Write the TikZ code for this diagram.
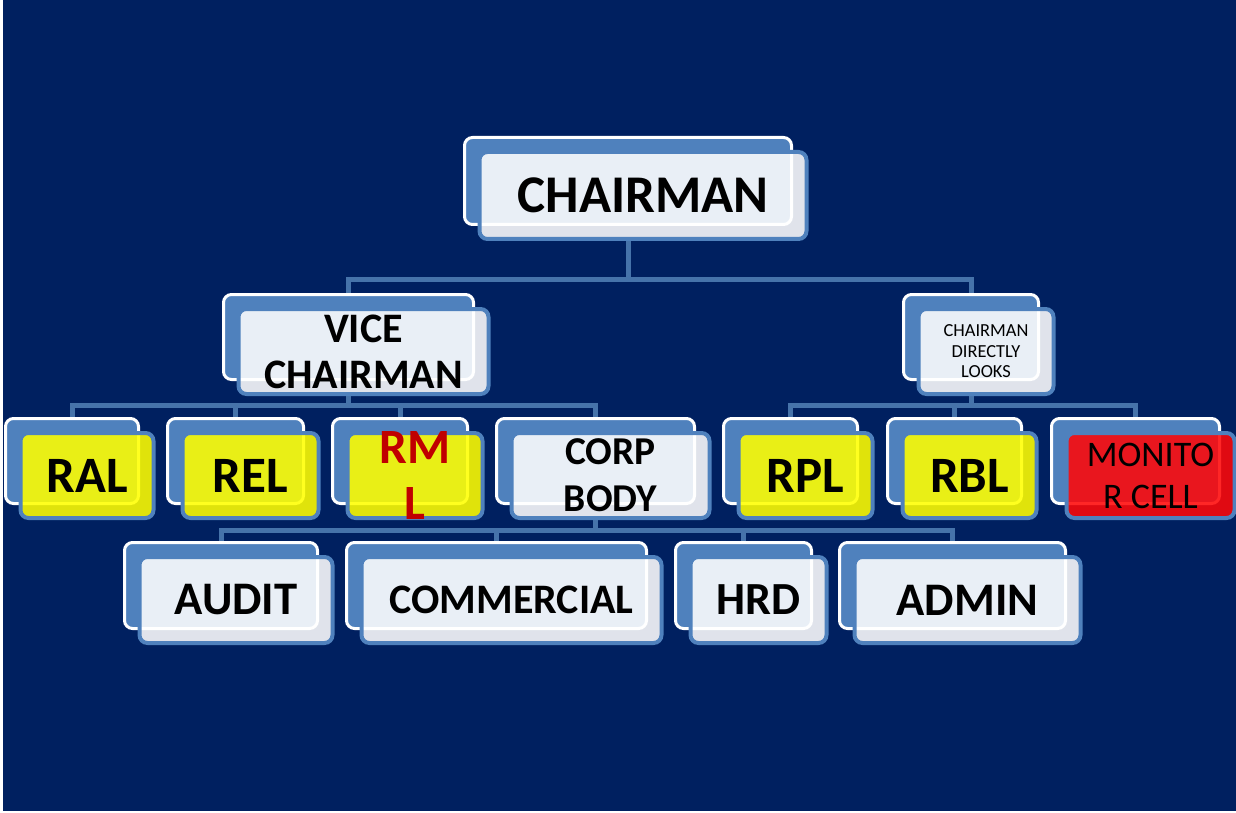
\documentclass[tikz,border=0pt]{standalone}
\usepackage{fontspec}
\setmainfont{Carlito}
\usetikzlibrary{calc}
\definecolor{navy}{HTML}{002060}
\definecolor{accent}{HTML}{4F81BD}
\definecolor{connc}{HTML}{4673AA}
\definecolor{rmlred}{HTML}{C00000}
\definecolor{boxwhite}{HTML}{FFFFFF}
\definecolor{boxyellow}{HTML}{FFFF00}
\definecolor{boxred}{HTML}{FF0808}
\pgfdeclarelayer{back}
\pgfdeclarelayer{lines}
\pgfsetlayers{back,lines,main}
\newcommand{\fsz}[2]{\fontsize{#1}{#2}\selectfont}
\tikzset{
  backbox/.style={draw=white, line width=2.25pt, fill=accent, rounded corners=6pt, inner sep=0pt},
  frontbox/.style={draw=accent, line width=3pt, fill=#1, fill opacity=0.88, draw opacity=1, text opacity=1, rounded corners=6pt, inner sep=0pt},
  txt/.style={inner sep=0pt, align=center, text=black},
  conn/.style={draw=connc, line width=3.75pt},
}
% name, cx, cy, w, h, fill
\newcommand{\orgbox}[6]{%
  \node[backbox, minimum width=#4*0.75pt, minimum height=#5*0.75pt] (#1B) at (#2,#3) {};
  \node[frontbox=#6, minimum width=#4*0.75pt, minimum height=#5*0.75pt] (#1) at ($(#1B)+(15,14.5)$) {};
}
\begin{document}
\begin{tikzpicture}[x=0.75pt, y=-0.75pt]
\useasboundingbox (0,0) rectangle (1236,813);
\begin{pgfonlayer}{back}
  \fill[white] (0,0) rectangle (1236,813);
  \fill[navy] (3,0) rectangle (1236,811);
\end{pgfonlayer}

\orgbox{chair}{628}{181}{327}{87}{boxwhite}
\orgbox{vice}{348.5}{337}{250}{85}{boxwhite}
\orgbox{cdl}{971}{337}{135}{85}{boxwhite}
\orgbox{ral}{72}{461}{133}{85}{boxyellow}
\orgbox{rel}{235.5}{461}{136}{85}{boxyellow}
\orgbox{rml}{400}{461}{135}{85}{boxyellow}
\orgbox{corp}{595.5}{461}{198}{85}{boxwhite}
\orgbox{rpl}{790.5}{461}{134}{85}{boxyellow}
\orgbox{rbl}{954.5}{461}{134}{85}{boxyellow}
\orgbox{mon}{1135.5}{461}{168}{85}{boxred}
\orgbox{audit}{221}{585.5}{193}{86}{boxwhite}
\orgbox{comm}{496.5}{585.5}{300}{86}{boxwhite}
\orgbox{hrd}{743.5}{585.5}{136}{86}{boxwhite}
\orgbox{admin}{952.5}{585.5}{226}{86}{boxwhite}

\node[txt, font=\bfseries\fsz{39.75}{48}] (chairT) at (chair) {CHAIRMAN};
\node[txt, font=\bfseries\fsz{31.5}{34.5}] (viceT) at (vice) {VICE\\CHAIRMAN};
\node[txt, font=\fsz{13.8}{15.4}] (cdlT) at (cdl) {CHAIRMAN\\DIRECTLY\\LOOKS};
\node[txt, font=\bfseries\fsz{38.25}{46}] (ralT) at (ral) {RAL};
\node[txt, font=\bfseries\fsz{38.25}{46}] (relT) at (rel) {REL};
\node[txt, font=\bfseries\fsz{37}{42}, text=rmlred] (rmlT) at (rml) {RM\\L};
\node[txt, font=\bfseries\fsz{29.6}{35}] (corpT) at (corp) {CORP\\BODY};
\node[txt, font=\bfseries\fsz{38.25}{46}] (rplT) at (rpl) {RPL};
\node[txt, font=\bfseries\fsz{38.25}{46}] (rblT) at (rbl) {RBL};
\node[txt, font=\fsz{27}{31.5}] (monT) at (mon) {MONITO\\R CELL};
\node[txt, font=\bfseries\fsz{35}{42}] (auditT) at (audit) {AUDIT};
\node[txt, font=\bfseries\fsz{31.5}{38}] (commT) at (comm) {COMMERCIAL};
\node[txt, font=\bfseries\fsz{34.5}{42}] (hrdT) at (hrd) {HRD};
\node[txt, font=\bfseries\fsz{35}{42}] (adminT) at (admin) {ADMIN};

\begin{pgfonlayer}{lines}
  \coordinate (busA) at (0,280);
  \coordinate (busB) at (0,405);
  \coordinate (busC) at (0,530);
  \draw[conn] (chairB.center |- chair.south) -- (chairB.center |- busA) -| (viceB.north);
  \draw[conn] (chairB.center |- busA) -| (cdlB.north);
  \draw[conn] (viceB.center |- vice.south) -- (viceB.center |- busB) -| (ralB.north);
  \draw[conn] (viceB.center |- busB) -| (relB.north);
  \draw[conn] (viceB.center |- busB) -| (rmlB.north);
  \draw[conn] (viceB.center |- busB) -| (corpB.north);
  \draw[conn] (cdlB.center |- cdl.south) -- (cdlB.center |- busB) -| (rplB.north);
  \draw[conn] (cdlB.center |- busB) -| (rblB.north);
  \draw[conn] (cdlB.center |- busB) -| (monB.north);
  \draw[conn] (corpB.center |- corp.south) -- (corpB.center |- busC) -| (auditB.north);
  \draw[conn] (corpB.center |- busC) -| (commB.north);
  \draw[conn] (corpB.center |- busC) -| (hrdB.north);
  \draw[conn] (corpB.center |- busC) -| (adminB.north);
\end{pgfonlayer}
\end{tikzpicture}
\end{document}
